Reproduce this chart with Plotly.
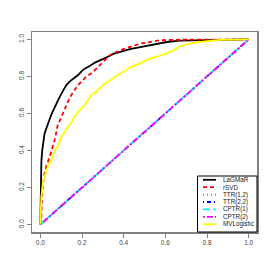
import plotly.graph_objects as go

# ---- data ----
series_names = ["LaGMaR", "rSVD", "TTR(1,2)", "TTR(2,2)", "CPTR(1)", "CPTR(2)", "MVLogistic"]
series_colors = ["black", "red", "#00CD00", "blue", "cyan", "magenta", "yellow"]
series_dash = ["solid", "4px,3px", "1px,3px", "1px,3px,4px,3px", "7px,3px", "2px,2px,6px,2px", "solid"]

lagmar_fpr = [0, 0.001, 0.0015, 0.003, 0.005, 0.009, 0.013, 0.02, 0.029, 0.037, 0.045, 0.057, 0.069, 0.08,
              0.093, 0.11, 0.125, 0.14, 0.157, 0.18, 0.2, 0.213, 0.237, 0.262, 0.286, 0.31, 0.334, 0.35,
              0.39, 0.43, 0.48, 0.526, 0.574, 0.607, 0.67, 0.767, 0.85, 1.0]
lagmar_tpr = [0, 0.12, 0.215, 0.30, 0.34, 0.40, 0.448, 0.49, 0.52, 0.55, 0.570, 0.605, 0.636, 0.665,
              0.69, 0.725, 0.753, 0.772, 0.785, 0.806, 0.83, 0.842, 0.856, 0.875, 0.887, 0.898, 0.912, 0.922,
              0.935, 0.947, 0.958, 0.968, 0.98, 0.986, 0.993, 0.996, 0.998, 1.0]

rsvd_fpr = [0, 0.003, 0.005, 0.008, 0.013, 0.021, 0.03, 0.045, 0.057, 0.069, 0.077, 0.085, 0.093, 0.109,
            0.117, 0.133, 0.149, 0.165, 0.181, 0.2, 0.221, 0.253, 0.286, 0.31, 0.334, 0.38, 0.43, 0.478,
            0.53, 0.574, 0.65, 0.8, 1.0]
rsvd_tpr = [0, 0.02, 0.045, 0.152, 0.22, 0.278, 0.32, 0.367, 0.41, 0.457, 0.50, 0.547, 0.56, 0.605,
            0.62, 0.665, 0.70, 0.73, 0.753, 0.775, 0.80, 0.824, 0.86, 0.885, 0.915, 0.94, 0.96, 0.977,
            0.987, 0.995, 0.998, 1.0, 1.0]

diag_fpr = [0, 1]
diag_tpr = [0, 1]

mvl_fpr = [0, 0.0005, 0.0015, 0.005, 0.013, 0.02, 0.029, 0.037, 0.053, 0.069, 0.085, 0.1, 0.117, 0.133,
           0.149, 0.165, 0.19, 0.213, 0.23, 0.245, 0.262, 0.286, 0.31, 0.335, 0.358, 0.398, 0.43, 0.48,
           0.526, 0.567, 0.607, 0.64, 0.67, 0.72, 0.767, 0.863, 1.0]
mvl_tpr = [0, 0.01, 0.08, 0.15, 0.23, 0.26, 0.29, 0.32, 0.35, 0.40, 0.425, 0.47, 0.50, 0.53,
           0.55, 0.585, 0.62, 0.645, 0.675, 0.70, 0.712, 0.735, 0.762, 0.78, 0.797, 0.824, 0.848, 0.872,
           0.896, 0.91, 0.925, 0.942, 0.962, 0.978, 0.986, 0.998, 1.0]

xs = [lagmar_fpr, rsvd_fpr, diag_fpr, diag_fpr, diag_fpr, diag_fpr, mvl_fpr]
ys = [lagmar_tpr, rsvd_tpr, diag_tpr, diag_tpr, diag_tpr, diag_tpr, mvl_tpr]

tick_vals = [0.0, 0.2, 0.4, 0.6, 0.8, 1.0]
tick_text = ["0.0", "0.2", "0.4", "0.6", "0.8", "1.0"]

# ---- figure ----
fig = go.Figure()
for name, x, y, c, d in zip(series_names, xs, ys, series_colors, series_dash):
    fig.add_trace(go.Scatter(x=x, y=y, mode="lines", name=name,
                             line=dict(color=c, width=1.8, dash=d), showlegend=False))

W = H = 273
ml, mr, mt, mb = 32, 16, 32, 41
pw, ph = W - ml - mr, H - mt - mb

def px2paper(xp, yp):
    return (xp - ml) / pw, (H - mb - yp) / ph

shapes = []
annotations = []
# legend box
lx0, ly0 = px2paper(197.5, 176)
lx1, ly1 = px2paper(257, 232)
shapes.append(dict(type="rect", xref="paper", yref="paper", x0=lx0, y0=ly1, x1=lx1, y1=ly0,
                   line=dict(color="black", width=1), fillcolor="white", layer="above"))
for i, (name, c, d) in enumerate(zip(series_names, series_colors, series_dash)):
    yc = 179.8 + i * 7.4
    sx0, sy = px2paper(203, yc)
    sx1, _ = px2paper(216, yc)
    shapes.append(dict(type="line", xref="paper", yref="paper", x0=sx0, x1=sx1, y0=sy, y1=sy,
                       line=dict(color=c, width=1.8, dash=d), layer="above"))
    tx, _ = px2paper(221, yc)
    annotations.append(dict(xref="paper", yref="paper", x=tx, y=sy, text=name, showarrow=False,
                            xanchor="left", yanchor="middle",
                            font=dict(family="Liberation Sans, Arial", size=6.3, color="#222")))

axis_common = dict(range=[-0.04, 1.04], showgrid=False, zeroline=False, showline=True, mirror=True,
                   linecolor="#808080", linewidth=1.5, ticks="outside", ticklen=4, tickcolor="#808080",
                   tickwidth=1, tickvals=tick_vals, ticktext=tick_text,
                   tickfont=dict(family="Liberation Sans, Arial", size=6.5, color="#444"))

fig.update_layout(width=W, height=H, margin=dict(l=ml, r=mr, t=mt, b=mb),
                  paper_bgcolor="white", plot_bgcolor="white",
                  xaxis=dict(**axis_common),
                  yaxis=dict(**axis_common, tickangle=-90),
                  shapes=shapes, annotations=annotations)

fig.write_html("out.html", config={"displayModeBar": False, "staticPlot": True},
               post_script="document.body.style.margin='0';document.body.style.overflow='hidden';")
